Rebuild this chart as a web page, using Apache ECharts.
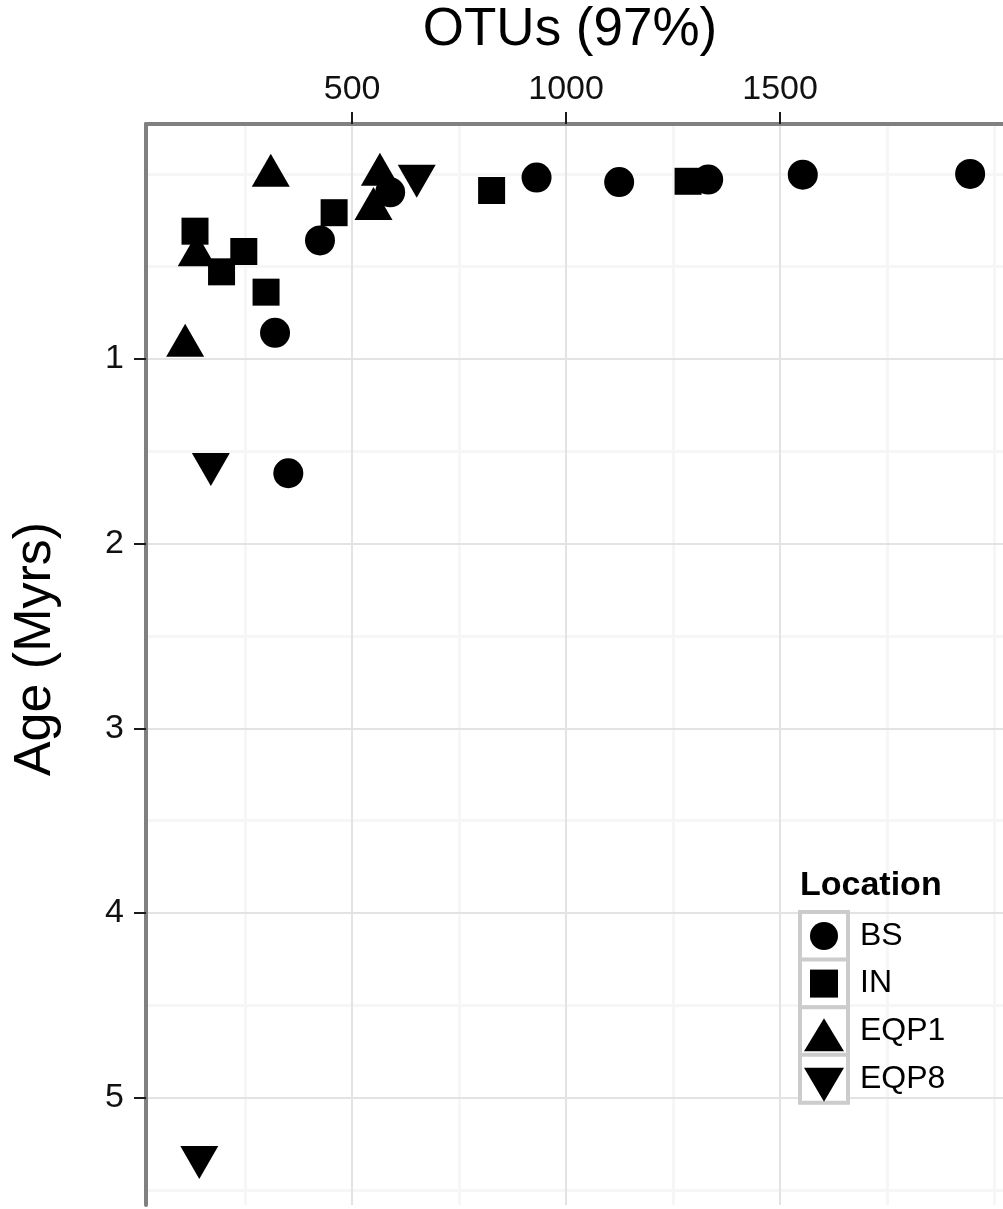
<!DOCTYPE html>
<html>
<head>
<meta charset="utf-8">
<script src="https://cdn.jsdelivr.net/npm/echarts@6/dist/echarts.min.js"></script>
<style>
  html, body { margin: 0; padding: 0; background: #ffffff; }
  #chart { width: 1003px; height: 1209px; }
</style>
</head>
<body>
<div id="chart"></div>
<script>
const FONT = '"Liberation Sans", Arial, Helvetica, sans-serif';

// Axis breaks
const otuMajorTicks = [500, 1000, 1500];
const otuMinorTicks = [250, 750, 1250, 1750, 2000];
const ageMajorTicks = [1, 2, 3, 4, 5];
const ageMinorTicks = [0, 0.5, 1.5, 2.5, 3.5, 4.5, 5.5];

// Sampling locations, in legend order
const locations = ['BS', 'IN', 'EQP1', 'EQP8'];

// OTU richness (97% clusters) against sediment age (Myrs), one pair of arrays per location
const bsOtus   = [425, 320, 351, 589, 931, 1124, 1332, 1553, 1944];
const bsAge    = [0.36, 0.86, 1.62, 0.10, 0.02, 0.044, 0.031, 0.004, 0.0];
const inOtus   = [133, 195, 247, 299, 458, 826, 1285];
const inAge    = [0.31, 0.53, 0.42, 0.64, 0.21, 0.09, 0.04];
const eqp1Otus = [310, 565, 550, 137, 110];
const eqp1Age  = [0.01, 0.005, 0.19, 0.44, 0.93];
const eqp8Otus = [651, 170, 143];
const eqp8Age  = [0.01, 1.57, 5.32];

const DOWN_TRIANGLE = 'path://M0,0L2,0L1,2Z';

const pairs = (xs, ys) => xs.map((x, i) => [x, ys[i]]);

const seriesSpec = [
  { name: locations[0], data: pairs(bsOtus, bsAge),     symbol: 'circle',   size: 30,       offset: [0, 0] },
  { name: locations[1], data: pairs(inOtus, inAge),     symbol: 'rect',     size: 27,       offset: [0, 0] },
  { name: locations[2], data: pairs(eqp1Otus, eqp1Age), symbol: 'triangle', size: [38, 33], offset: [0, -5.5] },
  { name: locations[3], data: pairs(eqp8Otus, eqp8Age), symbol: DOWN_TRIANGLE, size: [38, 33], offset: [0, 5.5] }
];

const chart = echarts.init(document.getElementById('chart'), null, { renderer: 'canvas' });

// The panel runs past the right edge of the page; the visible part ends near 2021 OTUs
const X_MIN = 18.5, X_MAX = 2020.8;
const Y_MIN = -0.27, Y_MAX = 5.58;

const majorGrid = { show: true, lineStyle: { color: '#e3e3e3', width: 2 } };
const minorGrid = { show: true, lineStyle: { color: '#f6f6f6', width: 3 } };
const border = { show: true, onZero: false, lineStyle: { color: '#808080', width: 4 } };
const tick = { show: true, inside: false, length: 12, lineStyle: { color: '#1a1a1a', width: 2 } };
const plainNumber = v => String(v);

// Legend drawn as keyed boxes with a heading
const keyX = 800, keyW = 48, keyH = 48, keyTop = 912, keyStep = 47.6;
const legendGraphics = [
  { type: 'text', x: keyX, y: 886, z: 20,
    style: { text: 'Location', fontSize: 34, fontWeight: 'bold', fontFamily: FONT, fill: '#000', align: 'left', verticalAlign: 'middle' } }
];
locations.forEach((name, i) => {
  const cy = keyTop + keyH / 2 + i * keyStep;
  const cx = keyX + keyW / 2;
  legendGraphics.push({ type: 'rect', z: 20,
    shape: { x: keyX, y: cy - keyH / 2, width: keyW, height: keyH },
    style: { fill: '#ffffff', stroke: '#cccccc', lineWidth: 4 } });
  let mark;
  if (i === 0) mark = { type: 'circle', shape: { cx: cx, cy: cy, r: 14 } };
  else if (i === 1) mark = { type: 'rect', shape: { x: cx - 14, y: cy - 14, width: 28, height: 28 } };
  else if (i === 2) mark = { type: 'polygon', shape: { points: [[cx, cy - 13], [cx + 20, cy + 20], [cx - 20, cy + 20]] } };
  else mark = { type: 'polygon', shape: { points: [[cx - 20, cy - 11], [cx + 20, cy - 11], [cx, cy + 23]] } };
  mark.z = 21;
  mark.style = { fill: '#000000' };
  legendGraphics.push(mark);
  legendGraphics.push({ type: 'text', x: keyX + 60, y: cy, z: 21,
    style: { text: name, fontSize: 32, fontFamily: FONT, fill: '#000', align: 'left', verticalAlign: 'middle' } });
});

const option = {
  animation: false,
  backgroundColor: '#ffffff',
  grid: { left: 146, top: 124, right: 0, height: 1081, containLabel: false },
  xAxis: [
    {
      type: 'value', position: 'top', min: X_MIN, max: X_MAX, z: 1,
      axisLine: border,
      axisTick: Object.assign({ customValues: otuMajorTicks }, tick),
      axisLabel: { customValues: otuMajorTicks, formatter: plainNumber, fontSize: 34, fontFamily: FONT, color: '#111', margin: 17 },
      splitLine: majorGrid
    },
    {
      type: 'value', position: 'bottom', min: X_MIN, max: X_MAX, z: 0,
      axisLine: { show: false },
      axisTick: { show: false, customValues: otuMinorTicks },
      axisLabel: { show: false, customValues: otuMinorTicks },
      splitLine: minorGrid
    }
  ],
  yAxis: [
    {
      type: 'value', position: 'left', inverse: true, min: Y_MIN, max: Y_MAX, z: 1,
      axisLine: border,
      axisTick: Object.assign({ customValues: ageMajorTicks }, tick),
      axisLabel: { customValues: ageMajorTicks, formatter: plainNumber, fontSize: 34, fontFamily: FONT, color: '#111', margin: 22 },
      splitLine: majorGrid
    },
    {
      type: 'value', position: 'right', inverse: true, min: Y_MIN, max: Y_MAX, z: 0,
      axisLine: { show: false },
      axisTick: { show: false, customValues: ageMinorTicks },
      axisLabel: { show: false, customValues: ageMinorTicks },
      splitLine: minorGrid
    }
  ],
  series: seriesSpec.map(s => ({
    type: 'scatter',
    name: s.name,
    xAxisIndex: 0,
    yAxisIndex: 0,
    data: s.data,
    symbol: s.symbol,
    symbolSize: s.size,
    symbolOffset: s.offset,
    itemStyle: { color: '#000000', opacity: 1 },
    emphasis: { disabled: true },
    z: 5
  })),
  graphic: [
    { type: 'text', x: 570, y: 30, z: 20,
      style: { text: 'OTUs (97%)', fontSize: 53, fontFamily: FONT, fill: '#000', align: 'center', verticalAlign: 'middle' } },
    { type: 'text', x: 36, y: 649, rotation: Math.PI / 2, z: 20,
      style: { text: 'Age (Myrs)', fontSize: 52, fontFamily: FONT, fill: '#000', align: 'center', verticalAlign: 'middle' } }
  ].concat(legendGraphics)
};

chart.setOption(option);
</script>
</body>
</html>
